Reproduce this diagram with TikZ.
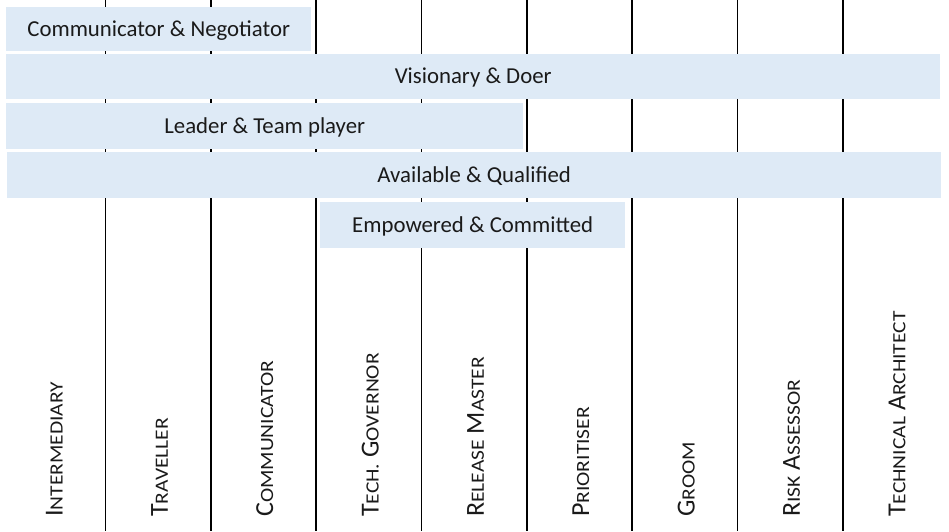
\documentclass[tikz,border=0pt]{standalone}
\usepackage{fontspec}
\usepackage{graphicx}
\setmainfont{Carlito}
\definecolor{barblue}{HTML}{DEEAF6}
\definecolor{txt}{HTML}{1A1A1A}
\newcommand{\fsc}[2]{#1\scalebox{1.15}[1]{\fontsize{18.7}{20}\selectfont #2}}
\begin{document}
\begin{tikzpicture}[x=1pt,y=-1pt,
  bar/.style={fill=barblue, draw=none, inner sep=0pt, anchor=north west, text=txt,
    text height=17pt, text depth=2.6pt,
    font=\fontsize{22.8}{26}\selectfont},
  divider/.style={line width=1.6pt, black},
  role/.style={rotate=90, anchor=west, inner sep=0pt, text=txt,
    font=\fontsize{26}{28}\selectfont}]
\useasboundingbox (0,0) rectangle (949,531);
% column dividers
\foreach \i in {1,...,8}{
  \coordinate (t\i) at ({105.35*\i},0);
  \coordinate (u\i) at ({105.35*\i},531);
  \draw[divider] (t\i) -- (u\i);
}
% bars
\node[bar, minimum width=305pt, minimum height=43.5pt] (b1) at (6,7) {Communicator \& Negotiator};
\node[bar, minimum width=934pt, minimum height=45pt] (b2) at (6,54) {Visionary \& Doer};
\node[bar, minimum width=517pt, minimum height=46pt] (b3) at (6,103) {Leader \& Team player};
\node[bar, minimum width=934pt, minimum height=46pt] (b4) at (7,152) {Available \& Qualified};
\node[bar, minimum width=305pt, minimum height=46pt] (b5) at (320,202) {Empowered \& Committed};
% role labels
\node[role] (r1) at ({105.35*0.5+1.5},517) {\fsc{I}{NTERMEDIARY}};
\node[role] (r2) at ({105.35*1.5+1.5},517) {\fsc{T}{RAVELLER}};
\node[role] (r3) at ({105.35*2.5+1.5},517) {\fsc{C}{OMMUNICATOR}};
\node[role] (r4) at ({105.35*3.5+1.5},517) {\fsc{T}{ECH.} \fsc{G}{OVERNOR}};
\node[role] (r5) at ({105.35*4.5+1.5},517) {\fsc{R}{ELEASE} \fsc{M}{ASTER}};
\node[role] (r6) at ({105.35*5.5+1.5},517) {\fsc{P}{RIORITISER}};
\node[role] (r7) at ({105.35*6.5+1.5},517) {\fsc{G}{ROOM}};
\node[role] (r8) at ({105.35*7.5+1.5},517) {\fsc{R}{ISK} \fsc{A}{SSESSOR}};
\node[role] (r9) at ({105.35*8.5+1.5},517) {\fsc{T}{ECHNICAL} \fsc{A}{RCHITECT}};
\end{tikzpicture}
\end{document}
